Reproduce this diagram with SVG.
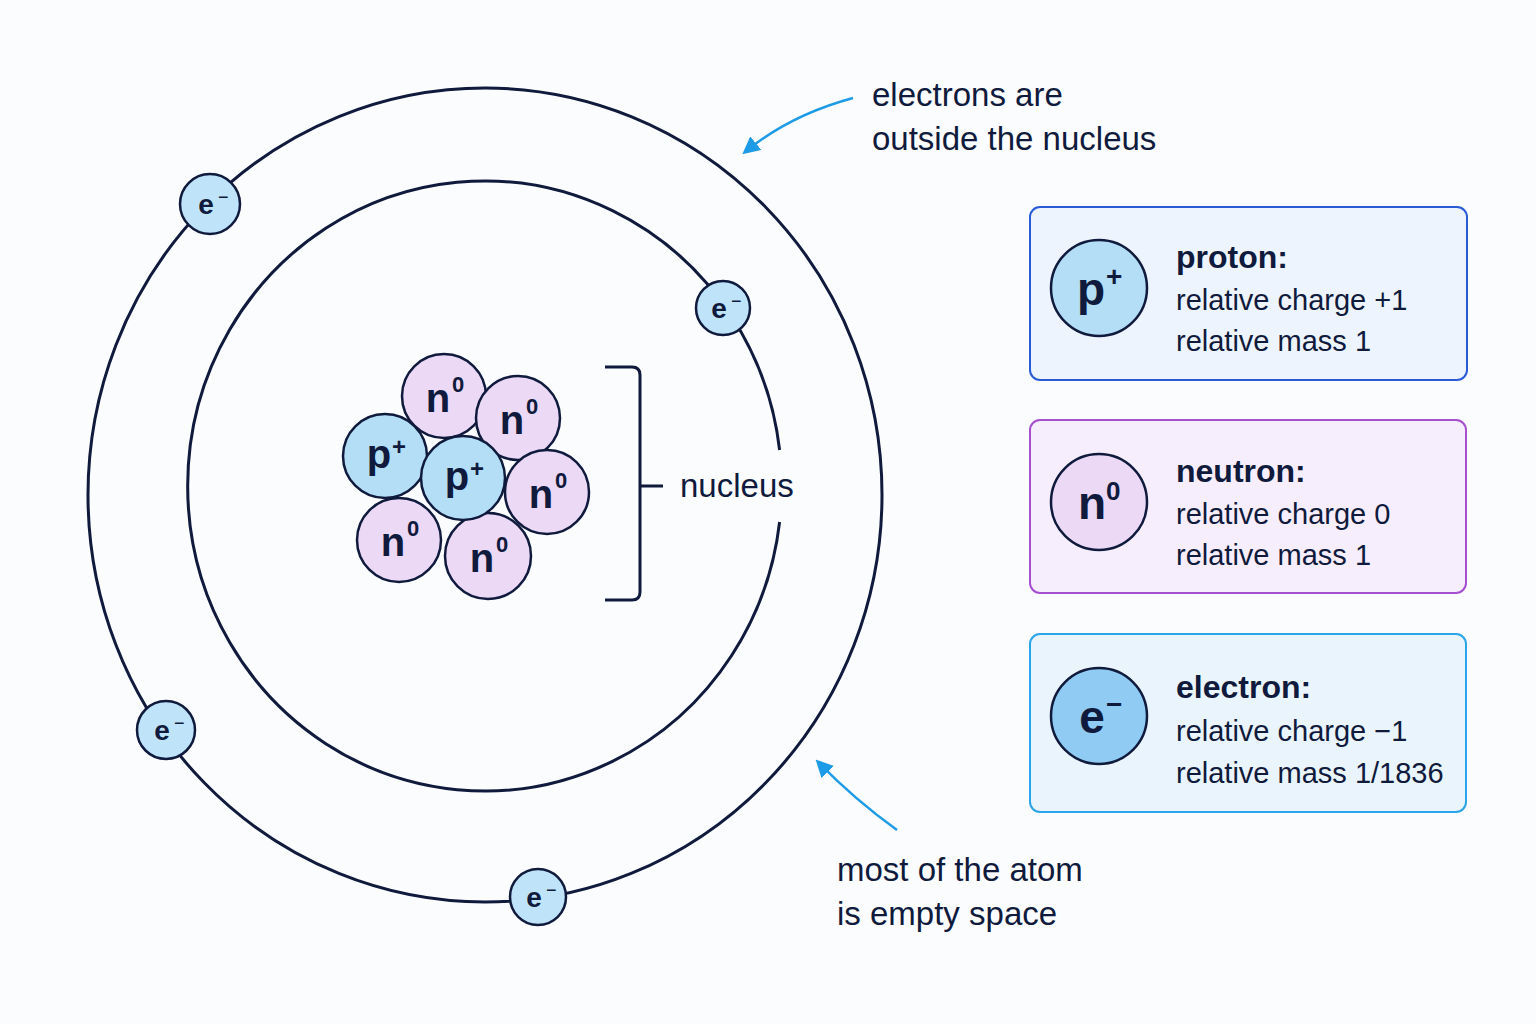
<svg xmlns="http://www.w3.org/2000/svg" width="1536" height="1024" viewBox="0 0 1536 1024">
<defs>
<style>
.orb{fill:none;stroke:#0f1a3c;stroke-width:3}
.p{fill:#b3def5;stroke:#0f1a3c;stroke-width:2.5}
.n{fill:#ecd9f6;stroke:#0f1a3c;stroke-width:2.5}
.e{fill:#bfe3f8;stroke:#0f1a3c;stroke-width:2.5}
.t{font-family:"Liberation Sans",Arial,sans-serif;fill:#0f1a3c}
.sym{font-family:"Liberation Sans",Arial,sans-serif;fill:#0f1a3c;font-weight:bold;text-anchor:middle}
.lbl{font-family:"Liberation Sans",Arial,sans-serif;fill:#0f1a3c;font-size:33px}
.arr{fill:none;stroke:#1e9be6;stroke-width:2.5}
</style>
<marker id="ah" viewBox="0 0 10 10" refX="8" refY="5" markerWidth="7" markerHeight="7" orient="auto-start-reverse"><path d="M0,0 L10,5 L0,10 z" fill="#1e9be6"/></marker>
</defs>
<rect width="1536" height="1024" fill="#fbfcfe"/>
<g id="orbits">
<ellipse class="orb" cx="485" cy="495" rx="397" ry="407"/>
<path class="orb" d="M779.6,450 A297,305 0 1 0 779.6,522"/>
</g>
<g id="connectors">
<path class="arr" d="M853,98 Q790,115 745,152" marker-end="url(#ah)"/>
<path class="arr" d="M897,830 Q855,800 818,762" marker-end="url(#ah)"/>
<path fill="none" stroke="#0f1a3c" stroke-width="3" d="M605,367 H632 Q640,367 640,375 V592 Q640,600 632,600 H605 M640,486 H663"/>
</g>
<g id="electrons">
<g id="e1"><circle class="e" cx="210" cy="204" r="30"/><text class="sym" x="206" y="214" font-size="28" font-weight="normal">e</text><text class="t" x="218" y="203" font-size="18">−</text></g>
<g id="e2"><circle class="e" cx="723" cy="308" r="27"/><text class="sym" x="719" y="318" font-size="28">e</text><text class="t" x="731" y="307" font-size="18">−</text></g>
<g id="e3"><circle class="e" cx="166" cy="730" r="29"/><text class="sym" x="162" y="740" font-size="28">e</text><text class="t" x="174" y="729" font-size="18">−</text></g>
<g id="e4"><circle class="e" cx="538" cy="897" r="28"/><text class="sym" x="534" y="907" font-size="28">e</text><text class="t" x="546" y="896" font-size="18">−</text></g>
</g>
<g id="nucleus">
<g><circle class="n" cx="444" cy="396" r="42"/><text class="sym" x="438" y="412" font-size="40">n</text><text class="t" x="452" y="392" font-size="22" font-weight="bold">0</text></g>
<g><circle class="n" cx="518" cy="418" r="42"/><text class="sym" x="512" y="434" font-size="40">n</text><text class="t" x="526" y="414" font-size="22" font-weight="bold">0</text></g>
<g><circle class="n" cx="547" cy="492" r="42"/><text class="sym" x="541" y="508" font-size="40">n</text><text class="t" x="555" y="488" font-size="22" font-weight="bold">0</text></g>
<g><circle class="n" cx="399" cy="540" r="42"/><text class="sym" x="393" y="556" font-size="40">n</text><text class="t" x="407" y="536" font-size="22" font-weight="bold">0</text></g>
<g><circle class="n" cx="488" cy="556" r="43"/><text class="sym" x="482" y="572" font-size="40">n</text><text class="t" x="496" y="552" font-size="22" font-weight="bold">0</text></g>
<g><circle class="p" cx="385" cy="456" r="42"/><text class="sym" x="379" y="468" font-size="40">p</text><text class="t" x="392" y="455" font-size="24" font-weight="bold">+</text></g>
<g><circle class="p" cx="463" cy="478" r="42"/><text class="sym" x="457" y="490" font-size="40">p</text><text class="t" x="470" y="477" font-size="24" font-weight="bold">+</text></g>
</g>
<g id="labels">
<text class="lbl" x="680" y="497" font-size="30">nucleus</text>
<text class="lbl" x="872" y="106">electrons are</text>
<text class="lbl" x="872" y="150">outside the nucleus</text>
<text class="lbl" x="837" y="881">most of the atom</text>
<text class="lbl" x="837" y="925">is empty space</text>
</g>
<g id="proton-box">
<rect x="1030" y="207" width="437" height="173" rx="10" fill="#eef4fd" stroke="#2a5bd7" stroke-width="2"/>
<circle class="p" cx="1099" cy="288" r="48"/><text class="sym" x="1091" y="305" font-size="46">p</text><text class="t" x="1106" y="286" font-size="28" font-weight="bold">+</text>
<text class="t" x="1176" y="268" font-size="32" font-weight="bold">proton:</text>
<text class="t" x="1176" y="310" font-size="29">relative charge +1</text>
<text class="t" x="1176" y="351" font-size="29">relative mass 1</text>
</g>
<g id="neutron-box">
<rect x="1030" y="420" width="436" height="173" rx="10" fill="#f6eefc" stroke="#a64fd0" stroke-width="2"/>
<circle class="n" cx="1099" cy="502" r="48"/><text class="sym" x="1092" y="519" font-size="46">n</text><text class="t" x="1106" y="500" font-size="26" font-weight="bold">0</text>
<text class="t" x="1176" y="482" font-size="32" font-weight="bold">neutron:</text>
<text class="t" x="1176" y="524" font-size="29">relative charge 0</text>
<text class="t" x="1176" y="565" font-size="29">relative mass 1</text>
</g>
<g id="electron-box">
<rect x="1030" y="634" width="436" height="178" rx="10" fill="#eaf4fc" stroke="#2aa4ea" stroke-width="2"/>
<circle cx="1099" cy="716" r="48" fill="#8fcbf2" stroke="#0f1a3c" stroke-width="2.5"/><text class="sym" x="1092" y="733" font-size="46">e</text><text class="t" x="1106" y="714" font-size="28" font-weight="bold">−</text>
<text class="t" x="1176" y="698" font-size="32" font-weight="bold">electron:</text>
<text class="t" x="1176" y="741" font-size="29">relative charge −1</text>
<text class="t" x="1176" y="783" font-size="29">relative mass 1/1836</text>
</g>
</svg>
